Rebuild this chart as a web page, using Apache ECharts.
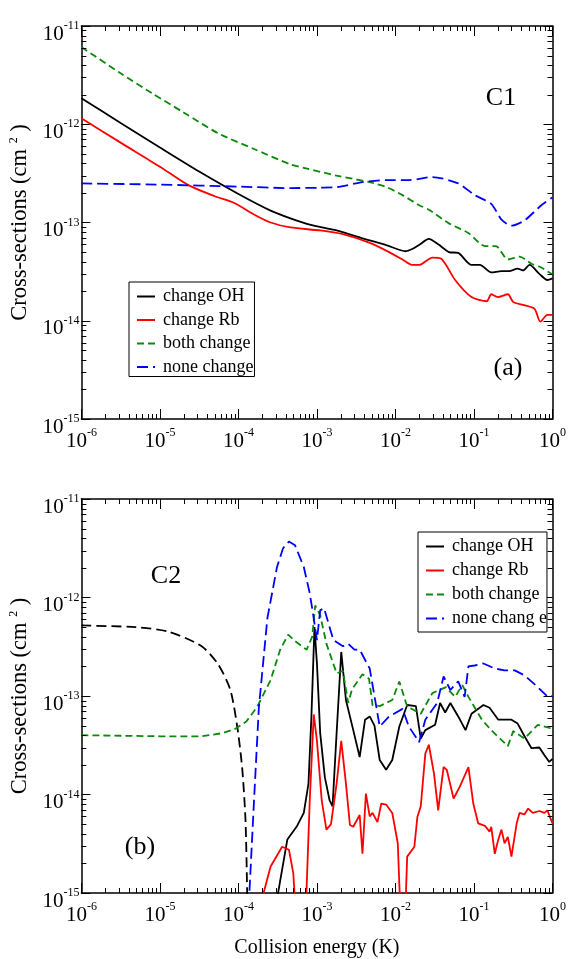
<!DOCTYPE html>
<html><head><meta charset="utf-8">
<script src="https://cdn.jsdelivr.net/npm/echarts@6/dist/echarts.min.js"></script>
<style>html,body{margin:0;padding:0;background:#fff}#c{width:569px;height:959px}</style>
</head><body><div id="c"></div>
<script>
// ---------- data (energy in K, cross-section in cm^2) ----------
const xRange = [1e-6, 1];
const yRange = [1e-15, 1e-11];
const seriesNames = ['change OH', 'change Rb', 'both change', 'none change'];

// Panel (a) C1
const aChangeOH = [[1e-6,1.84e-12],[3.16e-6,1.03e-12],[1e-5,5.8e-13],[3.16e-5,3.3e-13],[1e-4,1.95e-13],[2.57e-4,1.32e-13],[4.6e-4,1.1e-13],[8.1e-4,9.5e-14],[1.78e-3,8.3e-14],[3.8e-3,6.9e-14],[7.6e-3,5.9e-14],[1.35e-2,5.1e-14],[1.66e-2,5.4e-14],[2.0e-2,5.9e-14],[2.66e-2,6.8e-14],[3.5e-2,6.0e-14],[4.8e-2,5.0e-14],[6.3e-2,4.9e-14],[9.3e-2,3.7e-14],[1.19e-1,3.7e-14],[1.66e-1,3.1e-14],[2.24e-1,3.2e-14],[2.8e-1,3.2e-14],[3.6e-1,3.4e-14],[4.2e-1,3.25e-14],[5.1e-1,3.7e-14],[6.8e-1,3.0e-14],[8.6e-1,2.6e-14],[1,2.7e-14]];
const aChangeRb = [[1e-6,1.15e-12],[3.16e-6,6.5e-13],[1e-5,3.7e-13],[2.3e-5,2.4e-13],[5e-5,1.85e-13],[8.9e-5,1.58e-13],[1.6e-4,1.2e-13],[2.57e-4,1.0e-13],[4.6e-4,8.9e-14],[1.1e-3,8.3e-14],[2.14e-3,7.6e-14],[4.7e-3,6.2e-14],[8.3e-3,5.0e-14],[1.23e-2,4.2e-14],[1.62e-2,3.7e-14],[2.0e-2,3.7e-14],[2.95e-2,4.4e-14],[3.8e-2,4.3e-14],[5.75e-2,2.6e-14],[9.3e-2,1.74e-14],[1.45e-1,1.58e-14],[1.66e-1,1.86e-14],[2.0e-1,1.74e-14],[2.7e-1,1.86e-14],[3.16e-1,1.55e-14],[4.2e-1,1.45e-14],[5.9e-1,1.32e-14],[7.0e-1,9.8e-15],[8.6e-1,1.15e-14],[1,1.15e-14]];
const aBothChange = [[1e-6,6.1e-12],[3.16e-6,3.3e-12],[7.9e-6,2.07e-12],[2.0e-5,1.32e-12],[5.5e-5,8.1e-13],[1.58e-4,5.6e-13],[4.6e-4,3.9e-13],[6.8e-4,3.6e-13],[1.78e-3,3.0e-13],[4.7e-3,2.57e-13],[7.6e-3,2.3e-13],[1.23e-2,1.9e-13],[2.0e-2,1.5e-13],[2.66e-2,1.35e-13],[4.8e-2,9.8e-14],[8.5e-2,7.8e-14],[1.38e-1,5.75e-14],[1.9e-1,5.75e-14],[2.7e-1,4.2e-14],[3.8e-1,4.5e-14],[5.4e-1,3.8e-14],[7.1e-1,3.5e-14],[1,2.95e-14]];
const aNoneChange = [[1e-6,2.5e-13],[1e-5,2.43e-13],[1e-4,2.32e-13],[4.6e-4,2.24e-13],[1.1e-3,2.26e-13],[1.78e-3,2.29e-13],[3.8e-3,2.57e-13],[7.6e-3,2.7e-13],[1.48e-2,2.7e-13],[2.95e-2,2.9e-13],[6.3e-2,2.5e-13],[1.02e-1,1.9e-13],[1.66e-1,1.55e-13],[2.24e-1,1.07e-13],[3.0e-1,9.3e-14],[4.4e-1,1.05e-13],[7.2e-1,1.5e-13],[1,1.8e-13]];

// Panel (b) C2
const bChangeOHLow = [[1e-6,5.2e-13],[4.9e-6,5.0e-13],[1.29e-5,4.5e-13],[3.4e-5,3.2e-13],[5.5e-5,2.1e-13],[7.9e-5,1.15e-13],[9.8e-5,4.5e-14],[1.12e-4,1.8e-14],[1.23e-4,5.5e-15],[1.29e-4,1.07e-15],[1.32e-4,3e-16]];
const bChangeOH = [[2.75e-4,5e-16],[4.2e-4,3.5e-15],[5.5e-4,4.7e-15],[6.8e-4,6.5e-15],[7.8e-4,1.29e-14],[8.5e-4,6.2e-14],[9.3e-4,5.0e-13],[1.0e-3,2.14e-13],[1.1e-3,4.2e-14],[1.26e-3,1.5e-14],[1.45e-3,8.7e-15],[1.58e-3,7.6e-15],[1.78e-3,4.2e-14],[2.04e-3,2.8e-13],[2.34e-3,9.1e-14],[2.9e-3,4.5e-14],[3.5e-3,2.4e-14],[4.1e-3,5.75e-14],[4.7e-3,6.2e-14],[5.4e-3,5.0e-14],[6.3e-3,2.24e-14],[7.6e-3,1.78e-14],[9.1e-3,2.24e-14],[1.12e-2,4.9e-14],[1.41e-2,8.1e-14],[1.82e-2,7.9e-14],[2.1e-2,3.7e-14],[2.4e-2,4.5e-14],[3.2e-2,5.1e-14],[3.7e-2,8.5e-14],[4.3e-2,6.8e-14],[5.0e-2,8.5e-14],[6.3e-2,6.2e-14],[7.8e-2,4.5e-14],[9.3e-2,6.6e-14],[1.32e-1,8.1e-14],[1.58e-1,7.6e-14],[2.04e-1,5.75e-14],[3.0e-1,5.75e-14],[3.6e-1,5.25e-14],[4.4e-1,3.9e-14],[5.4e-1,2.95e-14],[6.8e-1,3.0e-14],[7.9e-1,2.5e-14],[9.1e-1,2.14e-14],[1,2.3e-14]];
const bChangeRb = [[1.66e-4,5e-16],[2.57e-4,1.86e-15],[3.6e-4,2.95e-15],[4.4e-4,2.75e-15],[5.0e-4,1.58e-15],[5.75e-4,2.5e-16],[6.9e-4,2.5e-16],[8.1e-4,8.7e-15],[9.1e-4,6.5e-14],[1.0e-3,3.5e-14],[1.15e-3,8.7e-15],[1.32e-3,4.4e-15],[1.51e-3,5.0e-15],[1.78e-3,1.29e-14],[2.04e-3,3.5e-14],[2.34e-3,1.29e-14],[2.63e-3,4.9e-15],[2.9e-3,4.7e-15],[3.5e-3,6.2e-15],[3.8e-3,2.5e-15],[4.2e-3,1.02e-14],[4.7e-3,6.0e-15],[5.1e-3,6.5e-15],[5.9e-3,5.25e-15],[6.6e-3,8.1e-15],[7.6e-3,7.9e-15],[9.1e-3,6.5e-15],[1.07e-2,3.2e-15],[1.17e-2,5e-16],[1.32e-2,5e-16],[1.41e-2,2.34e-15],[1.74e-2,2.95e-15],[1.9e-2,5.9e-15],[2.1e-2,7.6e-15],[2.4e-2,2.6e-14],[2.66e-2,3.2e-14],[3.1e-2,1.62e-14],[3.5e-2,6.9e-15],[4.1e-2,1.9e-14],[4.5e-2,1.78e-14],[5.5e-2,9.1e-15],[6.6e-2,1.2e-14],[8.5e-2,1.9e-14],[9.8e-2,8.1e-15],[1.13e-1,5.1e-15],[1.38e-1,4.8e-15],[1.58e-1,4.2e-15],[1.66e-1,4.7e-15],[1.84e-1,2.5e-15],[2.04e-1,3.5e-15],[2.24e-1,4.4e-15],[2.45e-1,3.2e-15],[2.7e-1,3.7e-15],[3.0e-1,2.34e-15],[3.5e-1,5.1e-15],[3.8e-1,6.5e-15],[4.4e-1,6.3e-15],[4.9e-1,7.2e-15],[5.6e-1,6.5e-15],[6.8e-1,6.8e-15],[7.9e-1,6.5e-15],[8.6e-1,6.9e-15],[1,5.1e-15]];
const bBothChange = [[1e-6,4.0e-14],[1e-5,3.9e-14],[3.4e-5,3.9e-14],[6.3e-5,4.2e-14],[8.9e-5,4.6e-14],[1.26e-4,5.5e-14],[1.74e-4,7.8e-14],[2.57e-4,1.45e-13],[3.4e-4,2.95e-13],[4.3e-4,4.2e-13],[5.4e-4,3.55e-13],[7.4e-4,2.95e-13],[8.7e-4,4.0e-13],[9.5e-4,8.3e-13],[1.1e-3,6.6e-13],[1.32e-3,3.4e-13],[1.78e-3,1.7e-13],[2.14e-3,1.8e-13],[2.5e-3,8.5e-14],[2.8e-3,1.17e-13],[3.8e-3,1.66e-13],[4.6e-3,1.5e-13],[5.1e-3,8.1e-14],[6.3e-3,7.9e-14],[9.1e-3,9.1e-14],[1.12e-2,1.4e-13],[1.41e-2,7.8e-14],[2.1e-2,6.6e-14],[2.95e-2,1.07e-13],[4.4e-2,1.23e-13],[5.75e-2,9.8e-14],[7.1e-2,1.29e-13],[8.5e-2,9.8e-14],[1.26e-1,5.75e-14],[1.66e-1,4.5e-14],[2.7e-1,3.1e-14],[3.16e-1,4.4e-14],[4.4e-1,3.7e-14],[6.5e-1,5.1e-14],[9.5e-1,4.7e-14],[1,4.4e-14]];
const bNoneChange = [[1.32e-4,5e-16],[1.58e-4,8.7e-15],[1.82e-4,7.6e-14],[2.34e-4,6.2e-13],[3.1e-4,2.04e-12],[3.7e-4,3.16e-12],[4.4e-4,3.7e-12],[5.25e-4,3.4e-12],[6.8e-4,2.04e-12],[8.1e-4,1.1e-12],[8.9e-4,6.9e-13],[1.0e-3,3.7e-13],[1.1e-3,7.4e-13],[1.23e-3,7.8e-13],[1.62e-3,3.7e-13],[2.14e-3,3.2e-13],[2.5e-3,3.4e-13],[3.0e-3,2.95e-13],[3.5e-3,2.95e-13],[4.7e-3,1.9e-13],[6.3e-3,4.9e-14],[8.3e-3,6.2e-14],[1.23e-2,7.4e-14],[1.48e-2,4.9e-14],[2.0e-2,3.4e-14],[2.4e-2,5.75e-14],[3.4e-2,8.5e-14],[4.1e-2,1.58e-13],[5.0e-2,1.15e-13],[6.3e-2,1.41e-13],[7.6e-2,9.8e-14],[8.5e-2,2.0e-13],[1.02e-1,2.04e-13],[1.32e-1,2.14e-13],[1.84e-1,1.9e-13],[2.45e-1,1.82e-13],[3.3e-1,1.82e-13],[4.4e-1,1.62e-13],[6.5e-1,1.23e-13],[8.7e-1,9.8e-14],[1,1.0e-13]];

// ---------- styling ----------
const FONT = 'Liberation Serif';
const GREEN = '#0a8a0a', BLUE = '#0000ff', RED = '#ff0000', BLACK = '#000000';
const LW = 1.8;

// minor tick positions (2..9 within each decade)
function minorTicks(lo, hi) {
  const out = [];
  for (let d = lo; d < hi; d++) for (let k = 2; k <= 9; k++) out.push(k * Math.pow(10, d));
  return out;
}
const xMinor = minorTicks(-6, 0);
const yMinor = minorTicks(-15, -11);

const supRich = {
  b: { fontFamily: FONT, fontSize: 21, lineHeight: 28, color: '#000' },
  s: { fontFamily: FONT, fontSize: 12, lineHeight: 10, verticalAlign: 'top', color: '#000' }
};
function powFmt(v) {
  const e = Math.round(Math.log10(v));
  return '{b|10}{s|' + e + '}';
}

const grids = [
  { left: 79, top: 26, width: 476, height: 393 },
  { left: 79, top: 499, width: 476, height: 394 }
];

function xAx(gi, pos, withLabel, name) {
  const o = {
    type: 'log', logBase: 10, gridIndex: gi, position: pos,
    min: xRange[0], max: xRange[1], splitNumber: 6,
    axisLine: { show: true, lineStyle: { color: '#000', width: 1.5 } },
    axisTick: { show: true, inside: true, length: 10, lineStyle: { color: '#000', width: 1 } },
    splitLine: { show: false },
    axisLabel: withLabel ? { show: true, margin: 8, formatter: powFmt, rich: supRich, showMinLabel: true, showMaxLabel: true } : { show: false }
  };
  if (name) {
    o.name = name; o.nameLocation = 'middle'; o.nameGap = 45;
    o.nameTextStyle = { fontFamily: FONT, fontSize: 20, color: '#000', verticalAlign: 'top' };
  }
  return o;
}
function yAx(gi, pos, withLabel) {
  const o = {
    type: 'log', logBase: 10, gridIndex: gi, position: pos,
    min: yRange[0], max: yRange[1], splitNumber: 4,
    axisLine: { show: true, lineStyle: { color: '#000', width: 1.5 } },
    axisTick: { show: true, inside: true, length: 9, lineStyle: { color: '#000', width: 1 } },
    splitLine: { show: false },
    axisLabel: withLabel ? { show: true, margin: 2, padding: [16, 0, 0, 0], formatter: powFmt, rich: supRich, showMinLabel: true, showMaxLabel: true } : { show: false }
  };
  if (withLabel) {
    o.name = '{a|Cross-sections (cm }{s|2}{a| )}';
    o.nameLocation = 'middle'; o.nameGap = 45;
    o.nameTextStyle = { rich: {
      a: { fontFamily: FONT, fontSize: 22.5, lineHeight: 24, color: '#000' },
      s: { fontFamily: FONT, fontSize: 12, lineHeight: 10, verticalAlign: 'top', color: '#000' } } };
  }
  return o;
}

function lineSeries(name, data, xi, yi, color, dash, smooth) {
  return {
    type: 'line', name: name, data: data, xAxisIndex: xi, yAxisIndex: yi,
    symbol: 'none', showSymbol: false, smooth: smooth || false, clip: true,
    lineStyle: { color: color, width: LW, type: dash || 'solid' },
    itemStyle: { color: color }, z: 3
  };
}

function tickSeries(xi, yi, isX) {
  const data = isX ? xMinor.map(v => [v, 1e-13]) : yMinor.map(v => [1e-3, v]);
  return {
    type: 'custom', xAxisIndex: xi, yAxisIndex: yi, silent: true, z: 10, clip: false,
    data: data,
    renderItem: function (params, api) {
      const cs = params.coordSys;
      const p = api.coord([api.value(0), api.value(1)]);
      const st = { stroke: '#000', lineWidth: 1 };
      if (isX) {
        const x = Math.round(p[0]) + 0.5;
        return { type: 'group', children: [
          { type: 'line', shape: { x1: x, y1: cs.y + cs.height, x2: x, y2: cs.y + cs.height - 5 }, style: st },
          { type: 'line', shape: { x1: x, y1: cs.y, x2: x, y2: cs.y + 5 }, style: st }
        ] };
      } else {
        const y = Math.round(p[1]) + 0.5;
        return { type: 'group', children: [
          { type: 'line', shape: { x1: cs.x, y1: y, x2: cs.x + 5, y2: y }, style: st },
          { type: 'line', shape: { x1: cs.x + cs.width, y1: y, x2: cs.x + cs.width - 5, y2: y }, style: st }
        ] };
      }
    }
  };
}

function legendCfg(left, top, gap, padRight, padBottom, fmt) {
  return {
    orient: 'vertical', left: left, top: top, data: seriesNames,
    itemWidth: 18, itemHeight: 12, itemGap: gap,
    padding: [5, padRight, padBottom, 7],
    borderColor: '#000', borderWidth: 1, backgroundColor: '#fff',
    selectedMode: false,
    itemStyle: { opacity: 0 },
    textStyle: { fontFamily: FONT, fontSize: 18, color: '#000', lineHeight: 19, padding: [0, 0, 0, 3] },
    formatter: fmt || function (n) { return n; }
  };
}

const DASH_G = [7, 4], DASH_B = [11, 5], DASH_K = [10, 5];

const option = {
  animation: false,
  backgroundColor: '#fff',
  grid: grids,
  xAxis: [xAx(0, 'bottom', true), xAx(0, 'top', false), xAx(1, 'bottom', true, 'Collision energy (K)'), xAx(1, 'top', false)],
  yAxis: [yAx(0, 'left', true), yAx(0, 'right', false), yAx(1, 'left', true), yAx(1, 'right', false)],
  legend: [
    legendCfg(129, 282, 4.5, 1, 0),
    legendCfg(418, 532, 5, 0, 4, function (n) { return n === 'none change' ? 'none chang e' : n; })
  ],
  graphic: [
    { type: 'text', x: 501, y: 98, style: { text: 'C1', fill: '#000', font: '26px "Liberation Serif"', align: 'center', verticalAlign: 'middle' } },
    { type: 'text', x: 508, y: 368, style: { text: '(a)', fill: '#000', font: '26px "Liberation Serif"', align: 'center', verticalAlign: 'middle' } },
    { type: 'text', x: 166, y: 576, style: { text: 'C2', fill: '#000', font: '26px "Liberation Serif"', align: 'center', verticalAlign: 'middle' } },
    { type: 'text', x: 140, y: 847, style: { text: '(b)', fill: '#000', font: '26px "Liberation Serif"', align: 'center', verticalAlign: 'middle' } }
  ],
  series: [
    lineSeries('change OH', aChangeOH, 0, 0, BLACK, null, 0.25),
    lineSeries('change Rb', aChangeRb, 0, 0, RED, null, 0.25),
    lineSeries('both change', aBothChange, 0, 0, GREEN, DASH_G, 0.25),
    lineSeries('none change', aNoneChange, 0, 0, BLUE, DASH_B, 0.25),
    lineSeries('change OH low', bChangeOHLow, 2, 2, BLACK, DASH_K, 0.25),
    lineSeries('change OH', bChangeOH, 2, 2, BLACK),
    lineSeries('change Rb', bChangeRb, 2, 2, RED),
    lineSeries('both change', bBothChange, 2, 2, GREEN, DASH_G),
    lineSeries('none change', bNoneChange, 2, 2, BLUE, DASH_B),
    tickSeries(0, 0, true), tickSeries(0, 0, false),
    tickSeries(2, 2, true), tickSeries(2, 2, false)
  ]
};

const chart = echarts.init(document.getElementById('c'), null, { renderer: 'canvas' });
chart.setOption(option);
</script></body></html>
